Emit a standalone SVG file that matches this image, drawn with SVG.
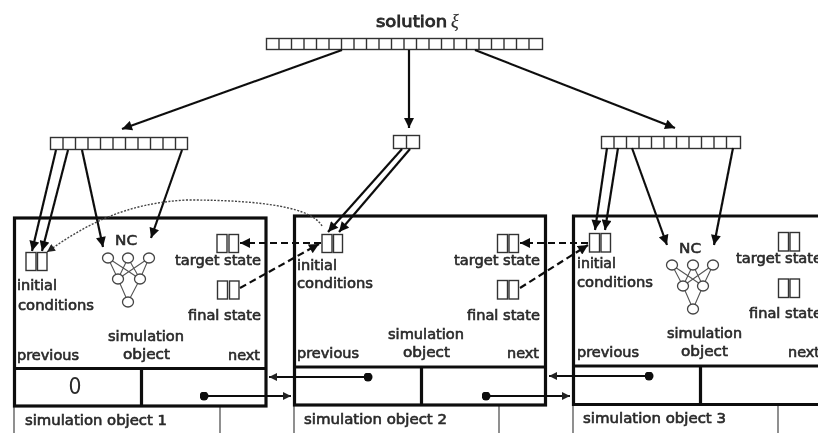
<svg xmlns="http://www.w3.org/2000/svg" width="818" height="433" viewBox="0 0 818 433">
<defs>
<filter id="soft" x="-2%" y="-2%" width="104%" height="104%"><feGaussianBlur stdDeviation="0.5"/></filter>
<marker id="ah" viewBox="0 0 10 10" refX="10" refY="5" markerWidth="11" markerHeight="10" markerUnits="userSpaceOnUse" orient="auto"><path d="M0 0L10 5L0 10Z" fill="#111"/></marker>
<marker id="ahs" viewBox="0 0 10 10" refX="10" refY="5" markerWidth="9" markerHeight="8" markerUnits="userSpaceOnUse" orient="auto"><path d="M0 0L10 5L0 10Z" fill="#222"/></marker>
<marker id="dot" viewBox="0 0 10 10" refX="5" refY="5" markerWidth="9" markerHeight="9" markerUnits="userSpaceOnUse"><circle cx="5" cy="5" r="5" fill="#111"/></marker>
</defs>
<style>
text{font-family:"DejaVu Sans","Liberation Sans",sans-serif;font-weight:400;font-size:14px;fill:#2a2a2a;stroke:#2a2a2a;stroke-width:.6}
.arr{fill:#fff;stroke:#333;stroke-width:1.4}
.frame{fill:none;stroke:#111;stroke-width:3.2}
.thin{fill:none;stroke:#555;stroke-width:1.3}
.ar{fill:none;stroke:#111;stroke-width:2.2;marker-end:url(#ah)}
.da{fill:none;stroke:#111;stroke-width:2.2;stroke-dasharray:7 4;marker-end:url(#ah)}
.do{fill:none;stroke:#444;stroke-width:1.4;stroke-dasharray:2 1.5;marker-end:url(#ahs)}
.li{fill:none;stroke:#111;stroke-width:2;marker-start:url(#dot);marker-end:url(#ahs)}
.n{fill:#fff;stroke:#444;stroke-width:1.3}
.e{stroke:#555;stroke-width:1.1;fill:none}
</style>
<rect width="818" height="433" fill="#fff"/>
<g filter="url(#soft)">
<g id="solution">
<text x="376" y="27" textLength="71" lengthAdjust="spacingAndGlyphs" style="font-size:16px;stroke-width:.9">solution</text>
<text x="451" y="27" style="font-family:'Liberation Serif',serif;font-style:italic;font-size:18px;stroke-width:.2">ξ</text>
<rect class="arr" x="266.500" y="38.500" width="276" height="11"/>
<path class="arr" d="M279 38.500v11M291.500 38.500v11M304 38.500v11M316.500 38.500v11M329 38.500v11M341.500 38.500v11M354 38.500v11M366.500 38.500v11M379 38.500v11M391.500 38.500v11M404 38.500v11M416.500 38.500v11M429 38.500v11M441.500 38.500v11M454 38.500v11M466.500 38.500v11M479 38.500v11M491.500 38.500v11M504 38.500v11M516.500 38.500v11M529 38.500v11"/>
</g>
<g id="genes-1">
<rect class="arr" x="50.500" y="137.500" width="137" height="12"/>
<path class="arr" d="M63 137.500v12M75.500 137.500v12M88 137.500v12M100.500 137.500v12M113 137.500v12M125.500 137.500v12M138 137.500v12M150.500 137.500v12M163 137.500v12M175.500 137.500v12"/>
</g>
<g id="genes-2">
<rect class="arr" x="393.500" y="135.500" width="26" height="13"/>
<path class="arr" d="M406.500 135.500v13"/>
</g>
<g id="genes-3">
<rect class="arr" x="601.500" y="136.500" width="139" height="12"/>
<path class="arr" d="M614 136.500v12M626.500 136.500v12M639 136.500v12M651.500 136.500v12M664 136.500v12M676.500 136.500v12M689 136.500v12M701.500 136.500v12M714 136.500v12M726.500 136.500v12"/>
</g>
<g id="object-1">
<path class="thin" d="M14 407V433M220 407V433"/>
<rect class="frame" x="14.500" y="218" width="251.500" height="188"/>
<path class="frame" d="M14.500 368.500H266M141.500 368.500V406"/>
<rect class="arr" x="26" y="252.500" width="10" height="18"/><rect class="arr" x="37.500" y="252.500" width="9.500" height="18"/>
<rect class="arr" x="217" y="234.500" width="10" height="18"/><rect class="arr" x="229" y="234.500" width="9.500" height="18"/>
<rect class="arr" x="217.500" y="281" width="10" height="18"/><rect class="arr" x="229.500" y="281" width="9.500" height="18"/>
<path class="e" d="M108 258L118 279M108 258L140 279M128 258L118 279M128 258L140 279M149 258L118 279M149 258L140 279M118 279L128 302M140 279L128 302"/>
<ellipse class="n" cx="108" cy="258" rx="5.500" ry="5"/><ellipse class="n" cx="128" cy="258" rx="5.500" ry="5"/><ellipse class="n" cx="149" cy="258" rx="5.500" ry="5"/><ellipse class="n" cx="118" cy="279" rx="5.500" ry="5"/><ellipse class="n" cx="140" cy="279" rx="5.500" ry="5"/><ellipse class="n" cx="128" cy="302" rx="5.500" ry="5"/>
<text x="115" y="245" textLength="22" lengthAdjust="spacingAndGlyphs">NC</text>
<text x="17" y="290" textLength="40" lengthAdjust="spacingAndGlyphs">initial</text>
<text x="18" y="310" textLength="76" lengthAdjust="spacingAndGlyphs">conditions</text>
<text x="175" y="265" textLength="86" lengthAdjust="spacingAndGlyphs">target state</text>
<text x="188" y="320" textLength="73" lengthAdjust="spacingAndGlyphs">final state</text>
<text x="108" y="341" textLength="76" lengthAdjust="spacingAndGlyphs">simulation</text>
<text x="123" y="359" textLength="47" lengthAdjust="spacingAndGlyphs">object</text>
<text x="17" y="360" textLength="62" lengthAdjust="spacingAndGlyphs">previous</text>
<text x="228" y="360" textLength="32" lengthAdjust="spacingAndGlyphs">next</text>
<text x="75" y="394" text-anchor="middle" textLength="13" lengthAdjust="spacingAndGlyphs" style="font-size:23px;stroke-width:0">0</text>
<text x="25" y="425" textLength="142" lengthAdjust="spacingAndGlyphs">simulation object 1</text>
</g>
<g id="object-2">
<path class="thin" d="M294 406V433M499 406V433"/>
<rect class="frame" x="294.500" y="216" width="251" height="189"/>
<path class="frame" d="M294.500 367H546M421.500 367V405"/>
<rect class="arr" x="322" y="234.500" width="10" height="18"/><rect class="arr" x="333.500" y="234.500" width="9" height="18"/>
<rect class="arr" x="497.500" y="234.500" width="10" height="18"/><rect class="arr" x="509" y="234.500" width="9.500" height="18"/>
<rect class="arr" x="497.500" y="280.500" width="10" height="18.500"/><rect class="arr" x="509" y="280.500" width="9.500" height="18.500"/>
<text x="297" y="270" textLength="40" lengthAdjust="spacingAndGlyphs">initial</text>
<text x="297" y="288" textLength="76" lengthAdjust="spacingAndGlyphs">conditions</text>
<text x="454" y="265" textLength="86" lengthAdjust="spacingAndGlyphs">target state</text>
<text x="467" y="320" textLength="73" lengthAdjust="spacingAndGlyphs">final state</text>
<text x="388" y="339" textLength="76" lengthAdjust="spacingAndGlyphs">simulation</text>
<text x="403" y="357" textLength="47" lengthAdjust="spacingAndGlyphs">object</text>
<text x="297" y="358" textLength="62" lengthAdjust="spacingAndGlyphs">previous</text>
<text x="507" y="358" textLength="32" lengthAdjust="spacingAndGlyphs">next</text>
<text x="304" y="424" textLength="143" lengthAdjust="spacingAndGlyphs">simulation object 2</text>
</g>
<g id="object-3">
<path class="thin" d="M573 405V433M778 405V433"/>
<path class="frame" d="M820 216H573.500V404.500H820M573.500 366H820M700.500 366V404"/>
<rect class="arr" x="589.500" y="233.500" width="10" height="18.500"/><rect class="arr" x="601" y="233.500" width="9.500" height="18.500"/>
<rect class="arr" x="778.500" y="232.500" width="10" height="18.500"/><rect class="arr" x="790" y="232.500" width="9.500" height="18.500"/>
<rect class="arr" x="778.500" y="279" width="10" height="18.500"/><rect class="arr" x="790" y="279" width="9.500" height="18.500"/>
<path class="e" d="M672 265L683 286M672 265L703 286M693 265L683 286M693 265L703 286M713 265L683 286M713 265L703 286M683 286L693 309M703 286L693 309"/>
<ellipse class="n" cx="672" cy="265" rx="5.500" ry="5"/><ellipse class="n" cx="693" cy="265" rx="5.500" ry="5"/><ellipse class="n" cx="713" cy="265" rx="5.500" ry="5"/><ellipse class="n" cx="683" cy="286" rx="5.500" ry="5"/><ellipse class="n" cx="703" cy="286" rx="5.500" ry="5"/><ellipse class="n" cx="693" cy="309" rx="5.500" ry="5"/>
<text x="679" y="253" textLength="22" lengthAdjust="spacingAndGlyphs">NC</text>
<text x="577" y="268" textLength="39" lengthAdjust="spacingAndGlyphs">initial</text>
<text x="577" y="287" textLength="76" lengthAdjust="spacingAndGlyphs">conditions</text>
<text x="736" y="263" textLength="86" lengthAdjust="spacingAndGlyphs">target state</text>
<text x="749" y="318" textLength="73" lengthAdjust="spacingAndGlyphs">final state</text>
<text x="667" y="338" textLength="75" lengthAdjust="spacingAndGlyphs">simulation</text>
<text x="681" y="356" textLength="47" lengthAdjust="spacingAndGlyphs">object</text>
<text x="577" y="357" textLength="62" lengthAdjust="spacingAndGlyphs">previous</text>
<text x="788" y="357" textLength="32" lengthAdjust="spacingAndGlyphs">next</text>
<text x="583" y="423" textLength="143" lengthAdjust="spacingAndGlyphs">simulation object 3</text>
</g>
<g id="connectors">
<path class="ar" d="M342 50L122 129"/>
<path class="ar" d="M409 50V128"/>
<path class="ar" d="M475 50L675 128"/>
<path class="ar" d="M56 150L32 251"/>
<path class="ar" d="M68 150L42 251"/>
<path class="ar" d="M82 150L103 247"/>
<path class="ar" d="M182 150L151 238"/>
<path class="ar" d="M402 149L328 232"/>
<path class="ar" d="M410 149L339 232"/>
<path class="ar" d="M607 148L595 230"/>
<path class="ar" d="M618 148L605 230"/>
<path class="ar" d="M632 148L667 245"/>
<path class="ar" d="M733 148L714 245"/>
<path class="do" d="M322 226C312 208 265 200 187 200C125 203 85 225 47 252"/>
<path class="da" d="M321 243H240"/>
<path class="da" d="M240 288L319 244"/>
<path class="da" d="M588 243H520"/>
<path class="da" d="M520 288L588 245"/>
<path class="li" d="M368 377H269"/>
<path class="li" d="M204 396H291"/>
<path class="li" d="M486 396H570"/>
<path class="li" d="M649 376H549"/>
</g>
</g>
</svg>
